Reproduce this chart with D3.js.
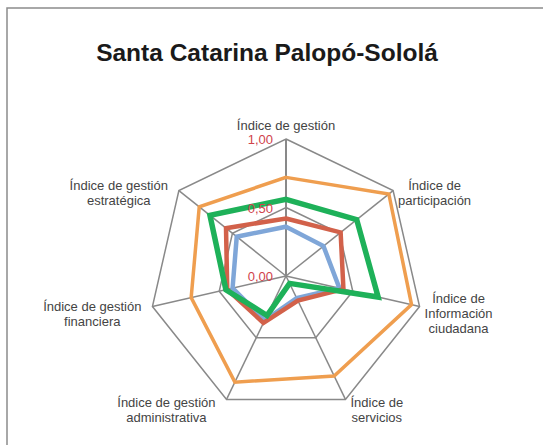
<!DOCTYPE html>
<html>
<head>
<meta charset="utf-8">
<script src="https://cdn.jsdelivr.net/npm/d3@7"></script>
<style>
  body { margin: 0; background: #fff; }
  svg { display: block; }
</style>
</head>
<body>
<div id="chart"></div>
<script>
// axes, clockwise from the top
var axes = [
  ["Índice de gestión"],
  ["Índice de", "participación"],
  ["Índice de", "Información", "ciudadana"],
  ["Índice de", "servicios"],
  ["Índice de gestión", "administrativa"],
  ["Índice de gestión", "financiera"],
  ["Índice de gestión", "estratégica"]
];
var ticks = [0, 0.5, 1];
var tickLabels = ["0,00", "0,50", "1,00"];

// series values
var orange = [0.72, 0.96, 0.94, 0.81, 0.86, 0.71, 0.81];
var blue   = [0.36, 0.35, 0.40, 0.18, 0.36, 0.40, 0.46];
var red    = [0.42, 0.51, 0.43, 0.20, 0.38, 0.44, 0.56];
var green  = [0.56, 0.66, 0.69, 0.06, 0.32, 0.45, 0.71];

var series = [
  {values: orange, color: "#EF9E4F", width: 3.5},
  {values: blue,   color: "#7FA6D8", width: 4.5},
  {values: red,    color: "#D2614A", width: 4.5},
  {values: green,  color: "#1EB159", width: 5.5}
];

var W = 543, H = 445;
var cx = 286, cy = 276, R = 137;

var svg = d3.select("#chart").append("svg")
  .attr("width", W).attr("height", H);

// frame
svg.append("rect")
  .attr("x", 7).attr("y", 8)
  .attr("width", W).attr("height", H)
  .attr("fill", "none").attr("stroke", "#8c8c8c").attr("stroke-width", 1.5);

// title
svg.append("text")
  .attr("x", 267).attr("y", 61)
  .attr("text-anchor", "middle")
  .attr("font-family", "Liberation Sans, Arial, sans-serif")
  .attr("font-weight", "bold").attr("font-size", 24.5)
  .attr("fill", "#1a1a1a")
  .text("Santa Catarina Palopó-Sololá");

var r = d3.scaleLinear().domain([0, 1]).range([0, R]);
var angle = d3.scalePoint().domain(d3.range(axes.length + 1)).range([0, 2 * Math.PI]);

var g = svg.append("g").attr("transform", "translate(" + cx + "," + cy + ")");

var radial = d3.lineRadial()
  .angle(function(d, i) { return angle(i); })
  .radius(function(d) { return r(d); })
  .curve(d3.curveLinearClosed);

// grid rings
ticks.filter(function(t) { return t > 0; }).forEach(function(t) {
  g.append("path")
    .attr("d", radial(axes.map(function() { return t; })))
    .attr("fill", "none").attr("stroke", "#898989").attr("stroke-width", 1.5);
});

// spokes
axes.forEach(function(a, i) {
  var ang = angle(i);
  g.append("line")
    .attr("x1", 0).attr("y1", 0)
    .attr("x2", r(1) * Math.sin(ang)).attr("y2", -r(1) * Math.cos(ang))
    .attr("stroke", "#898989").attr("stroke-width", i === 0 ? 2 : 1.5);
});

// series
series.forEach(function(s) {
  g.append("path")
    .attr("d", radial(s.values))
    .attr("fill", "none")
    .attr("stroke", s.color)
    .attr("stroke-width", s.width)
    .attr("stroke-linejoin", "miter");
});

// tick labels
ticks.forEach(function(t, i) {
  g.append("text")
    .attr("x", -13).attr("y", -r(t) + 5)
    .attr("text-anchor", "end")
    .attr("font-family", "Liberation Sans, Arial, sans-serif")
    .attr("font-size", 13)
    .attr("fill", "#D0434B")
    .text(tickLabels[i]);
});

// axis labels
var lineH = 15;
axes.forEach(function(lines, i) {
  var ang = angle(i);
  var dx = Math.sin(ang), dy = -Math.cos(ang);
  var px = r(1) * dx, py = r(1) * dy;
  var t = g.append("text")
    .attr("text-anchor", "middle")
    .attr("font-family", "Liberation Sans, Arial, sans-serif")
    .attr("font-size", 13)
    .attr("fill", "#444");
  lines.forEach(function(l) { t.append("tspan").text(l); });
  var w = 0;
  t.selectAll("tspan").each(function() { w = Math.max(w, this.getComputedTextLength()); });
  var h = lines.length * lineH;
  var bx, by;
  if (Math.abs(dx) < 0.1) {
    bx = px; by = py - 5 - h / 2;
  } else {
    bx = px + (dx > 0 ? 5 + w / 2 : -11 - w / 2);
    by = py + 7 + 5 * dy;
  }
  t.selectAll("tspan")
    .attr("x", bx)
    .attr("y", function(d, j) { return by - h / 2 + lineH * j + 11; });
});
</script>
</body>
</html>
